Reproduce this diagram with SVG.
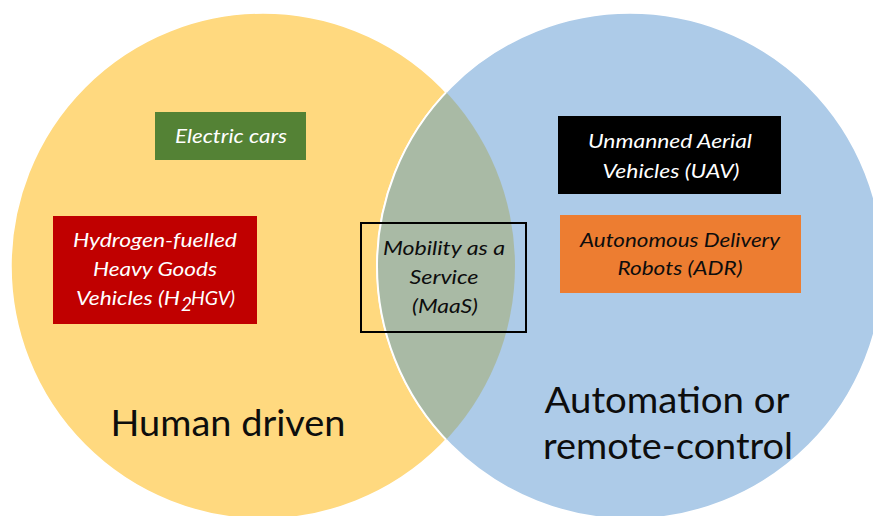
<svg xmlns="http://www.w3.org/2000/svg" width="873" height="516" viewBox="0 0 873 516">
<style>
.box{font-family:Lato,"Open Sans","Liberation Sans",sans-serif;font-style:italic;font-size:19px;text-anchor:middle}
.st{text-anchor:start}
.big{font-family:Lato,"Open Sans","Liberation Sans",sans-serif;font-size:36px;fill:#0d0d0d;text-anchor:middle}
.w{fill:#ffffff}
.k{fill:#0d0d0d}
</style>
<defs>
<clipPath id="leftClip"><ellipse cx="263" cy="266" rx="252" ry="253"/></clipPath>
</defs>
<rect width="873" height="516" fill="#ffffff"/>
<g id="human-driven">
<ellipse cx="263" cy="266" rx="252" ry="253" fill="#FFD97F" stroke="#ffffff" stroke-width="1.5"/>
</g>
<g id="automation">
<ellipse cx="630" cy="266" rx="253" ry="253" fill="#ADCBE8" stroke="#ffffff" stroke-width="1.5"/>
</g>
<g id="overlap" clip-path="url(#leftClip)">
<ellipse cx="630" cy="266" rx="253" ry="253" fill="#A9BAA5" stroke="#ffffff" stroke-width="2"/>
</g>
<g id="label-human">
<text class="big" x="228" y="436" textLength="235" lengthAdjust="spacingAndGlyphs">Human driven</text>
</g>
<g id="label-automation">
<text class="big" x="667" y="413" textLength="245" lengthAdjust="spacingAndGlyphs">Automation or</text>
<text class="big" x="668" y="459" textLength="250" lengthAdjust="spacingAndGlyphs">remote-control</text>
</g>
<g id="electric-cars">
<rect x="155" y="112" width="151" height="48" fill="#548235"/>
<text class="box w" x="231" y="143" textLength="112" lengthAdjust="spacingAndGlyphs">Electric cars</text>
</g>
<g id="h2hgv">
<rect x="53" y="216" width="204" height="108" fill="#C00000"/>
<text class="box w" x="155" y="247" textLength="164" lengthAdjust="spacingAndGlyphs">Hydrogen-fuelled</text>
<text class="box w" x="155" y="276" textLength="124" lengthAdjust="spacingAndGlyphs">Heavy Goods</text>
<text class="box w st" x="76" y="305" textLength="104" lengthAdjust="spacingAndGlyphs">Vehicles (H</text>
<text class="box w st" x="181" y="311" font-size="13">2</text>
<text class="box w st" x="191" y="305" textLength="44" lengthAdjust="spacingAndGlyphs">HGV)</text>
</g>
<g id="maas">
<rect x="361" y="223" width="165" height="109" fill="none" stroke="#000000" stroke-width="2"/>
<text class="box k" x="444" y="255" textLength="122" lengthAdjust="spacingAndGlyphs">Mobility as a</text>
<text class="box k" x="444" y="284" textLength="69" lengthAdjust="spacingAndGlyphs">Service</text>
<text class="box k" x="445" y="313" textLength="66" lengthAdjust="spacingAndGlyphs">(MaaS)</text>
</g>
<g id="uav">
<rect x="558" y="116" width="223" height="78" fill="#000000"/>
<text class="box w" x="670" y="148" textLength="164" lengthAdjust="spacingAndGlyphs">Unmanned Aerial</text>
<text class="box w" x="671" y="178" textLength="137" lengthAdjust="spacingAndGlyphs">Vehicles (UAV)</text>
</g>
<g id="adr">
<rect x="560" y="215" width="241" height="78" fill="#ED7D31"/>
<text class="box k" x="680" y="247" textLength="200" lengthAdjust="spacingAndGlyphs">Autonomous Delivery</text>
<text class="box k" x="680" y="275" textLength="125" lengthAdjust="spacingAndGlyphs">Robots (ADR)</text>
</g>
</svg>
